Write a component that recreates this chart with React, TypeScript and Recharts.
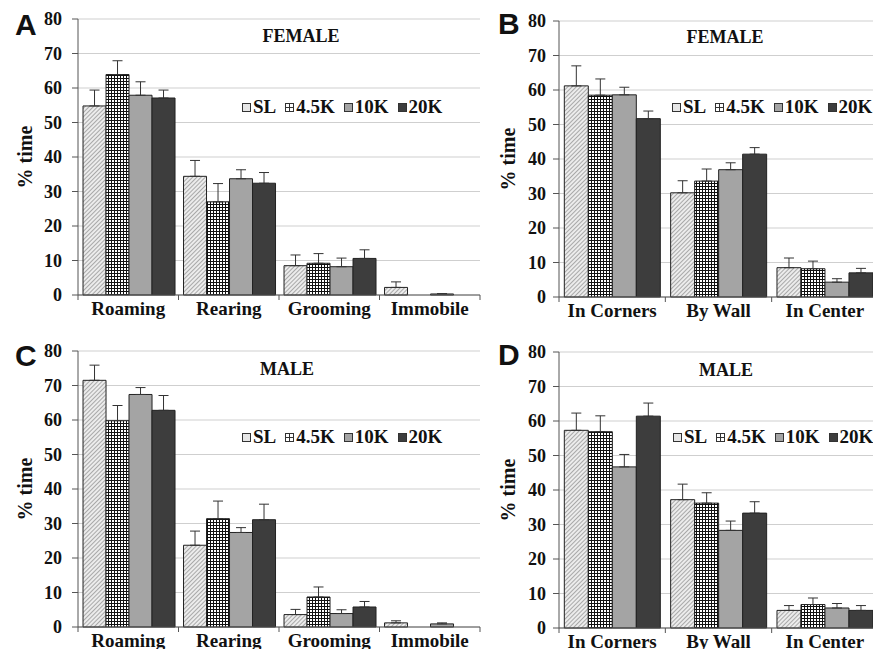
import React from "react";
import { BarChart, Bar, XAxis, YAxis, CartesianGrid, ErrorBar } from "recharts";

const SERIF = "'Liberation Serif', 'Times New Roman', serif";
const SANS = "'Liberation Sans', Arial, sans-serif";

const BEHAVIORS = ["Roaming", "Rearing", "Grooming", "Immobile"];
const LOCATIONS = ["In Corners", "By Wall", "In Center"];
const GROUPS = ["SL", "4.5K", "10K", "20K"];
const Y_TICKS = [0, 10, 20, 30, 40, 50, 60, 70, 80];

// rows follow GROUPS, columns follow the categories
const femaleBehaviorMean = [
  [54.8, 34.4, 8.5, 2.2],
  [63.9, 27.0, 9.2, 0],
  [57.9, 33.7, 8.2, 0.3],
  [57.1, 32.4, 10.6, 0],
];
const femaleBehaviorSem = [
  [4.6, 4.6, 3.1, 1.6],
  [4.0, 5.3, 2.8, 0],
  [3.9, 2.6, 2.5, 0.1],
  [2.3, 3.1, 2.5, 0],
];

const femaleLocationMean = [
  [61.2, 30.2, 8.5],
  [58.5, 33.6, 8.2],
  [58.6, 36.9, 4.3],
  [51.7, 41.4, 7.0],
];
const femaleLocationSem = [
  [5.8, 3.5, 2.8],
  [4.7, 3.5, 2.2],
  [2.2, 2.0, 1.0],
  [2.2, 1.9, 1.3],
];

const maleBehaviorMean = [
  [71.5, 23.7, 3.6, 1.2],
  [59.8, 31.4, 8.7, 0],
  [67.4, 27.4, 3.9, 0.9],
  [62.8, 31.1, 5.8, 0],
];
const maleBehaviorSem = [
  [4.4, 4.1, 1.5, 0.6],
  [4.4, 5.1, 2.9, 0],
  [2.0, 1.4, 1.1, 0.3],
  [4.3, 4.5, 1.6, 0],
];

const maleLocationMean = [
  [57.3, 37.2, 5.1],
  [56.9, 36.2, 6.8],
  [46.7, 28.3, 5.8],
  [61.4, 33.3, 5.1],
];
const maleLocationSem = [
  [5.0, 4.5, 1.4],
  [4.6, 3.0, 1.9],
  [3.6, 2.7, 1.3],
  [3.8, 3.3, 1.4],
];

const FILLS = ["url(#fillSL)", "url(#fill45K)", "#a4a4a4", "#3d3d3d"];

const CHART_H = 340;
const PLOT_H = 276;
const X_AXIS_H = 30;
const TICK_SIZE = 6;
const X_TICK_MARGIN = 1;

function toRows(categories: string[], mean: number[][], sem: number[][]) {
  return categories.map((name, i) => {
    const row: Record<string, any> = { name };
    GROUPS.forEach((_, g) => {
      row[`m${g}`] = mean[g][i];
      row[`e${g}`] = [0, sem[g][i]];
    });
    return row;
  });
}

// category label plus the little tick marks between categories
function CategoryTick(props: any) {
  const { x, y, payload, index, visibleTicksCount } = props;
  const half = payload?.offset ?? 0;
  const axisY = y - TICK_SIZE - X_TICK_MARGIN;
  const isLast = index === visibleTicksCount - 1;
  return (
    <g>
      <line x1={x - half} x2={x - half} y1={axisY} y2={axisY + 5} stroke="#555" />
      {isLast && <line x1={x + half} x2={x + half} y1={axisY} y2={axisY + 5} stroke="#555" />}
      <text
        x={x}
        y={y}
        dy="0.71em"
        textAnchor="middle"
        fill="#111"
        fontFamily={SERIF}
        fontWeight={700}
        fontSize={19}
      >
        {payload.value}
      </text>
    </g>
  );
}

function Swatch({ index }: { index: number }) {
  return (
    <svg width={9} height={9} style={{ display: "block", marginRight: 2 }}>
      {index === 0 && <rect x={0.5} y={0.5} width={8} height={8} fill="#e6e6e6" stroke="#333" />}
      {index === 1 && (
        <g>
          <rect x={0.5} y={0.5} width={8} height={8} fill="#fff" stroke="#333" />
          <path d="M4.5 1V8M1 4.5H8" stroke="#333" />
        </g>
      )}
      {index > 1 && <rect x={0.5} y={0.5} width={8} height={8} fill={FILLS[index]} stroke="#333" />}
    </svg>
  );
}

type PanelProps = {
  letter: string;
  title: string;
  categories: string[];
  mean: number[][];
  sem: number[][];
  left: number;
  top: number;
  width: number;
  plotTop: number;
  yAxisWidth: number;
  rightPad: number;
  yTickMargin: number;
  labelOffset: number;
  letterPos: [number, number];
  titlePos: [number, number];
  legendPos: [number, number];
};

function Panel(p: PanelProps) {
  const rows = toRows(p.categories, p.mean, p.sem);
  const bottom = CHART_H - p.plotTop - PLOT_H - X_AXIS_H;
  return (
    <>
      <div style={{ position: "absolute", left: p.left, top: p.top, width: p.width, height: CHART_H }}>
        <BarChart
          width={p.width}
          height={CHART_H}
          data={rows}
          margin={{ top: p.plotTop, right: p.rightPad, left: 0, bottom }}
          barGap={0}
          barCategoryGap="5%"
        >
          <CartesianGrid vertical={false} stroke="#cfcfcf" />
          <XAxis
            dataKey="name"
            height={X_AXIS_H}
            tickLine={false}
            tickSize={TICK_SIZE}
            tickMargin={X_TICK_MARGIN}
            axisLine={{ stroke: "#555" }}
            tick={<CategoryTick />}
            interval={0}
          />
          <YAxis
            width={p.yAxisWidth}
            domain={[0, 80]}
            ticks={Y_TICKS}
            interval={0}
            tickSize={TICK_SIZE}
            tickMargin={p.yTickMargin}
            axisLine={{ stroke: "#555" }}
            tickLine={{ stroke: "#555" }}
            tick={{ fill: "#111", fontSize: 18, fontWeight: 700, fontFamily: SERIF }}
            label={{
              value: "% time",
              angle: -90,
              position: "insideLeft",
              offset: p.labelOffset,
              style: { textAnchor: "middle", fontSize: 20, fontWeight: 700, fontFamily: SERIF, fill: "#111" },
            }}
          />
          {GROUPS.map((g, i) => (
            <Bar
              key={g}
              dataKey={`m${i}`}
              name={g}
              fill={FILLS[i]}
              stroke="#222"
              strokeWidth={1}
              isAnimationActive={false}
            >
              <ErrorBar dataKey={`e${i}`} width={5} stroke="#333" strokeWidth={1} direction="y" />
            </Bar>
          ))}
        </BarChart>
      </div>
      <svg
        width={873}
        height={649}
        style={{ position: "absolute", left: 0, top: 0, pointerEvents: "none" }}
      >
        <text x={p.letterPos[0]} y={p.letterPos[1]} fontFamily={SANS} fontWeight={700} fontSize={30} fill="#111">
          {p.letter}
        </text>
        <text
          x={p.titlePos[0]}
          y={p.titlePos[1]}
          textAnchor="middle"
          fontFamily={SERIF}
          fontWeight={700}
          fontSize={18}
          fill="#111"
        >
          {p.title}
        </text>
      </svg>
      <div
        style={{
          position: "absolute",
          left: p.legendPos[0],
          top: p.legendPos[1] - 15,
          display: "flex",
          alignItems: "center",
          fontFamily: SERIF,
          fontWeight: 700,
          fontSize: 19,
          lineHeight: "18px",
          color: "#111",
          whiteSpace: "nowrap",
        }}
      >
        {GROUPS.map((g, i) => (
          <span key={g} style={{ display: "flex", alignItems: "center", marginRight: 9 }}>
            <Swatch index={i} />
            {g}
          </span>
        ))}
      </div>
    </>
  );
}

export default function App() {
  return (
    <div
      style={{
        position: "absolute",
        left: 0,
        top: 0,
        width: 873,
        height: 649,
        overflow: "hidden",
        background: "#fff",
        fontFamily: SERIF,
      }}
    >
      <svg width={0} height={0} style={{ position: "absolute" }}>
        <defs>
          <pattern id="fillSL" patternUnits="userSpaceOnUse" width={3} height={3} patternTransform="rotate(45)">
            <rect width={3} height={3} fill="#ececec" />
            <rect width={1} height={3} fill="#a9a9a9" />
          </pattern>
          <pattern id="fill45K" patternUnits="userSpaceOnUse" width={3} height={3}>
            <rect width={3} height={3} fill="#111" />
            <rect x={1} y={1} width={2} height={2} fill="#fff" />
          </pattern>
        </defs>
      </svg>
      <Panel
        letter="A"
        title="FEMALE"
        categories={BEHAVIORS}
        mean={femaleBehaviorMean}
        sem={femaleBehaviorSem}
        left={0}
        top={0}
        width={490}
        plotTop={19}
        yAxisWidth={78}
        rightPad={10}
        yTickMargin={10}
        labelOffset={25}
        letterPos={[15, 35]}
        titlePos={[301, 42]}
        legendPos={[242, 113]}
      />
      <Panel
        letter="B"
        title="FEMALE"
        categories={LOCATIONS}
        mean={femaleLocationMean}
        sem={femaleLocationSem}
        left={480}
        top={0}
        width={420}
        plotTop={21}
        yAxisWidth={79}
        rightPad={22}
        yTickMargin={7}
        labelOffset={28}
        letterPos={[498, 34]}
        titlePos={[725, 43]}
        legendPos={[672, 113]}
      />
      <Panel
        letter="C"
        title="MALE"
        categories={BEHAVIORS}
        mean={maleBehaviorMean}
        sem={maleBehaviorSem}
        left={0}
        top={330}
        width={490}
        plotTop={21}
        yAxisWidth={78}
        rightPad={10}
        yTickMargin={10}
        labelOffset={25}
        letterPos={[15, 366]}
        titlePos={[287, 375]}
        legendPos={[242, 443]}
      />
      <Panel
        letter="D"
        title="MALE"
        categories={LOCATIONS}
        mean={maleLocationMean}
        sem={maleLocationSem}
        left={480}
        top={330}
        width={420}
        plotTop={22}
        yAxisWidth={79}
        rightPad={22}
        yTickMargin={7}
        labelOffset={28}
        letterPos={[498, 365]}
        titlePos={[726, 376]}
        legendPos={[673, 443]}
      />
    </div>
  );
}
